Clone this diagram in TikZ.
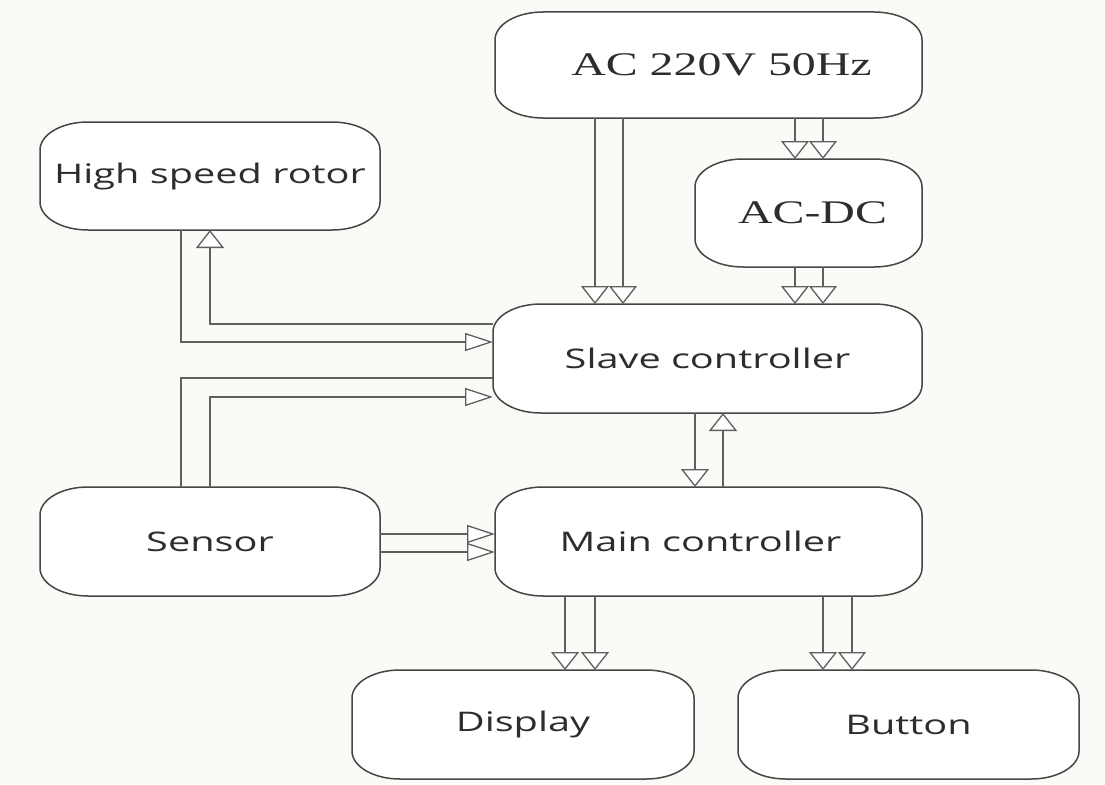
\documentclass[tikz,border=0pt]{standalone}
\usepackage{fontspec}
\usetikzlibrary{arrows.meta}
\newfontfamily\labsans[FakeStretch=1.47]{Open Sans}
\newfontfamily\labserif[FakeStretch=1.45]{Liberation Serif}
\definecolor{bgc}{RGB}{252,250,246}
\definecolor{edgec}{RGB}{70,70,70}
\definecolor{wirec}{RGB}{95,95,95}
\definecolor{txtc}{RGB}{45,45,45}
\def\crx{48}
\def\cry{28}
\def\kk{0.5523}
\newcommand\rbox[7]{% #1 name, #2 cx, #3 cy, #4 w, #5 h, #6 font, #7 text
  \pgfmathsetmacro\xa{#2-#4/2}\pgfmathsetmacro\xb{#2+#4/2}%
  \pgfmathsetmacro\ya{#3-#5/2}\pgfmathsetmacro\yb{#3+#5/2}%
  \draw[boxline] (\xa+\crx,\ya) -- (\xb-\crx,\ya)
    .. controls (\xb-\crx+\kk*\crx,\ya) and (\xb,\ya+\cry-\kk*\cry) .. (\xb,\ya+\cry)
    -- (\xb,\yb-\cry)
    .. controls (\xb,\yb-\cry+\kk*\cry) and (\xb-\crx+\kk*\crx,\yb) .. (\xb-\crx,\yb)
    -- (\xa+\crx,\yb)
    .. controls (\xa+\crx-\kk*\crx,\yb) and (\xa,\yb-\cry+\kk*\cry) .. (\xa,\yb-\cry)
    -- (\xa,\ya+\cry)
    .. controls (\xa,\ya+\cry-\kk*\cry) and (\xa+\crx-\kk*\crx,\ya) .. cycle;
  \node[boxnode, minimum width=#4pt, minimum height=#5pt, font=#6] (#1) at (#2,#3) {#7};
}
\begin{document}
\begin{tikzpicture}[x=1pt,y=-1pt,
  boxline/.style={draw=edgec, line width=1.5pt, fill=white},
  boxnode/.style={inner sep=0pt, outer sep=0pt, text=txtc},
  sansbig/.style={},
  wire/.style={draw=wirec, line width=1.8pt},
  varr/.style={wire, -{Triangle[width=28pt,length=18pt,fill=white,line width=1.3pt]}},
  harr/.style={wire, -{Triangle[width=18pt,length=28pt,fill=white,line width=1.3pt]}},
]
\fill[bgc] (0,0) rectangle (1105,784);
\useasboundingbox (0,0) rectangle (1105,784);

\rbox{ac}{708.5}{65}{427}{106}{\labserif\fontsize{33}{36}\selectfont}{\hspace*{26pt}AC 220V 50Hz}
\rbox{rotor}{210}{176}{340}{108}{\labsans\fontsize{27}{30}\selectfont}{High speed rotor}
\rbox{acdc}{808.5}{213}{227}{108}{\labserif\fontsize{33}{36}\selectfont}{\hspace*{8pt}AC-DC}
\rbox{slave}{707.5}{358.5}{429}{109}{\labsans\fontsize{27}{30}\selectfont}{Slave controller}
\rbox{sensor}{210}{541.5}{340}{109}{\labsans\fontsize{27}{30}\selectfont}{Sensor}
\rbox{main}{708.5}{541.5}{427}{109}{\labsans\fontsize{27}{30}\selectfont}{Main controller\hspace*{16pt}}
\rbox{display}{523}{724.5}{342}{109}{\labsans\fontsize{27}{30}\selectfont}{Display}
\rbox{button}{908.5}{724.5}{341}{109}{\labsans\fontsize{27}{30}\selectfont}{Button}

% AC -> slave
\draw[varr] (595,0 |- ac.south) -- (595,0 |- slave.north);
\draw[varr] (623,0 |- ac.south) -- (623,0 |- slave.north);
% AC -> AC-DC
\draw[varr] (795,0 |- ac.south) -- (795,0 |- acdc.north);
\draw[varr] (823,0 |- ac.south) -- (823,0 |- acdc.north);
% AC-DC -> slave
\draw[varr] (795,0 |- acdc.south) -- (795,0 |- slave.north);
\draw[varr] (823,0 |- acdc.south) -- (823,0 |- slave.north);
% rotor <-> slave
\draw[harr] (181,0 |- rotor.south) |- (slave.west |- 0,342);
\draw[varr] (slave.west |- 0,324) -| (210,0 |- rotor.south);
% sensor <-> slave
\draw[wire] (slave.west |- 0,378) -| (181,0 |- sensor.north);
\draw[harr] (210,0 |- sensor.north) |- (slave.west |- 0,397);
% slave <-> main
\draw[varr] (695,0 |- slave.south) -- (695,0 |- main.north);
\draw[varr] (723,0 |- main.north) -- (723,0 |- slave.south);
% sensor -> main
\draw[harr] (sensor.east |- 0,534) -- (main.west |- 0,534);
\draw[harr] (sensor.east |- 0,552) -- (main.west |- 0,552);
% main -> display
\draw[varr] (565,0 |- main.south) -- (565,0 |- display.north);
\draw[varr] (595,0 |- main.south) -- (595,0 |- display.north);
% main -> button
\draw[varr] (823,0 |- main.south) -- (823,0 |- button.north);
\draw[varr] (852,0 |- main.south) -- (852,0 |- button.north);
\end{tikzpicture}
\end{document}
